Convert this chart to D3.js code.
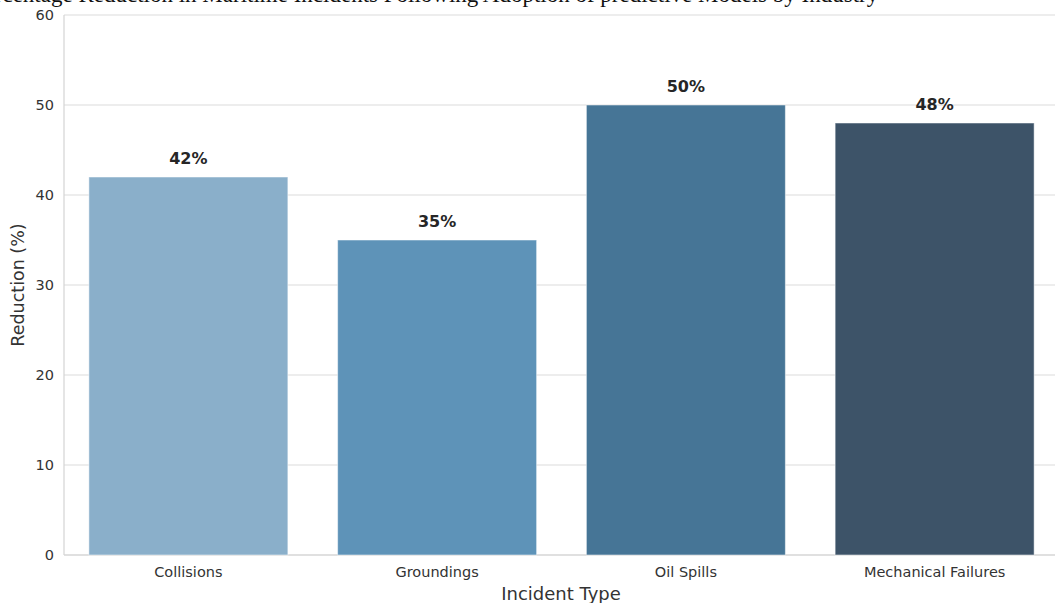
<!DOCTYPE html>
<html><head><meta charset="utf-8">
<script src="https://cdn.jsdelivr.net/npm/d3@7"></script>
<style>
html,body{margin:0;padding:0;background:#fff;overflow:hidden}
svg{display:block}
</style></head>
<body>
<svg id="chart" width="1055" height="603"></svg>
<script>
const categories = ["Collisions", "Groundings", "Oil Spills", "Mechanical Failures"];
const reductions = [42, 35, 50, 48];
const barColors = ["#8aafca", "#5e93b8", "#467596", "#3d5368"];
const yTicks = [0, 10, 20, 30, 40, 50, 60];
const titleText = "Percentage Reduction in Maritime Incidents Following Adoption of predictive Models by Industry";

const svg = d3.select("#chart");
const m = {left: 64, right: -4, top: 15, bottom: 48};
const W = 1055, H = 603;
const x = d3.scaleBand().domain(categories).range([m.left, W - m.right]).paddingInner(0.2).paddingOuter(0.1);
const y = d3.scaleLinear().domain([0, 60]).range([H - m.bottom, m.top]);

// grid
svg.append("g").selectAll("line").data(yTicks).join("line")
  .attr("x1", m.left).attr("x2", W - m.right)
  .attr("y1", d => y(d)).attr("y2", d => y(d))
  .attr("stroke", "#dcdcdc").attr("stroke-width", 1.1);

// spines
svg.append("line").attr("x1", m.left).attr("x2", m.left).attr("y1", y(0)).attr("y2", y(60))
  .attr("stroke", "#d4d4d4").attr("stroke-width", 1.2);
svg.append("line").attr("x1", m.left).attr("x2", W - m.right).attr("y1", y(0)).attr("y2", y(0))
  .attr("stroke", "#d4d4d4").attr("stroke-width", 1.2);

// bars
svg.append("g").selectAll("rect").data(categories).join("rect")
  .attr("x", d => x(d)).attr("width", x.bandwidth())
  .attr("y", (d, i) => y(reductions[i]))
  .attr("height", (d, i) => y(0) - y(reductions[i]))
  .attr("fill", (d, i) => barColors[i])
  .attr("stroke", "#ffffff").attr("stroke-opacity", 0.5).attr("stroke-width", 1);

// value labels
svg.append("g").selectAll("text").data(categories).join("text")
  .attr("x", d => x(d) + x.bandwidth() / 2)
  .attr("y", (d, i) => y(reductions[i]) - 13)
  .attr("text-anchor", "middle")
  .attr("font-family", "DejaVu Sans, sans-serif").attr("font-size", 16).attr("font-weight", "bold")
  .attr("fill", "#262626")
  .text((d, i) => reductions[i] + "%");

// y axis
const yAxis = d3.axisLeft(y).tickValues(yTicks).tickSize(0).tickPadding(10);
const gy = svg.append("g").attr("transform", `translate(${m.left},0)`).call(yAxis);
gy.select(".domain").remove();
gy.selectAll("text").attr("font-family", "DejaVu Sans, sans-serif").attr("font-size", 14.5).attr("fill", "#333");

// x axis
const xAxis = d3.axisBottom(x).tickSize(0).tickPadding(12);
const gx = svg.append("g").attr("transform", `translate(0,${y(0)})`).call(xAxis);
gx.select(".domain").remove();
gx.selectAll("text").attr("font-family", "DejaVu Sans, sans-serif").attr("font-size", 14.5).attr("fill", "#333");

// axis labels
svg.append("text").attr("x", 561).attr("y", 600).attr("text-anchor", "middle")
  .attr("font-family", "DejaVu Sans, sans-serif").attr("font-size", 18).attr("fill", "#333")
  .text("Incident Type");
svg.append("text").attr("transform", `translate(24,${y(30)}) rotate(-90)`).attr("text-anchor", "middle")
  .attr("font-family", "DejaVu Sans, sans-serif").attr("font-size", 17.5).attr("fill", "#333")
  .text("Reduction (%)");

// clipped title
svg.append("text").attr("x", 425).attr("y", 1.5).attr("text-anchor", "middle")
  .attr("font-family", "Liberation Serif, serif").attr("font-size", 23).attr("fill", "#111")
  .text(titleText);
</script>
</body></html>
